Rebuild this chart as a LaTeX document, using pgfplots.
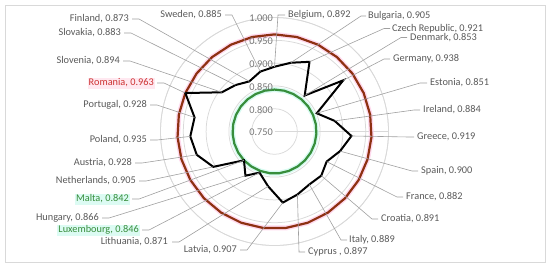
\documentclass[border=0pt]{standalone}
\usepackage{pgfplots}
\pgfplotsset{compat=1.18}
\usepackage{pgfplotstable}
\usepgfplotslibrary{polar}
\usepackage{fontspec}
\setmainfont{Carlito}

\definecolor{lbl}{RGB}{89,89,89}
\definecolor{tickc}{RGB}{118,118,118}
\definecolor{gridc}{RGB}{217,217,217}
\definecolor{lead}{RGB}{160,160,160}
\definecolor{redl}{RGB}{142,48,18}
\definecolor{greenl}{RGB}{56,142,60}
\definecolor{pinkg}{RGB}{255,205,232}
\definecolor{cyang}{RGB}{205,250,238}
\definecolor{redt}{RGB}{205,50,50}
\definecolor{pinkbg}{RGB}{255,232,240}

% country value max min  (clockwise from top; last row closes the ring)
\pgfplotstableread{
name v mx mn
Belgium 0.892 0.963 0.842
Bulgaria 0.905 0.963 0.842
CzechRepublic 0.921 0.963 0.842
Denmark 0.853 0.963 0.842
Germany 0.938 0.963 0.842
Estonia 0.851 0.963 0.842
Ireland 0.884 0.963 0.842
Greece 0.919 0.963 0.842
Spain 0.900 0.963 0.842
France 0.882 0.963 0.842
Croatia 0.891 0.963 0.842
Italy 0.889 0.963 0.842
Cyprus 0.897 0.963 0.842
Latvia 0.907 0.963 0.842
Lithuania 0.871 0.963 0.842
Luxembourg 0.846 0.963 0.842
Hungary 0.866 0.963 0.842
Malta 0.842 0.963 0.842
Netherlands 0.905 0.963 0.842
Austria 0.928 0.963 0.842
Poland 0.935 0.963 0.842
Portugal 0.928 0.963 0.842
Romania 0.963 0.963 0.842
Slovenia 0.894 0.963 0.842
Slovakia 0.883 0.963 0.842
Finland 0.873 0.963 0.842
Sweden 0.885 0.963 0.842
Belgium 0.892 0.963 0.842
}\data

\begin{document}
\begin{tikzpicture}[x=1bp,y=-1bp,
  lab/.style={text=lbl, inner sep=0pt, text height=7bp, text depth=2bp, font=\fontsize{10.3bp}{12bp}\selectfont},
  ld/.style={draw=lead, line width=0.6bp}]
\path[use as bounding box] (0,0) rectangle (550,267);
\draw[gridc, line width=0.75bp] (5,5) rectangle (545,262);
\begin{polaraxis}[
  at={(274.5bp,-131.5bp)}, anchor=center,
  width=228bp, height=228bp, scale only axis,
  ymin=0, ymax=0.25,
  xtick=\empty,
  ytick={0.05,0.1,0.15,0.2,0.25},
  yticklabels={},
  ymajorgrids, xmajorgrids=false,
  major grid style={draw=gridc, line width=0.75bp},
  axis line style={draw=gridc, line width=0.75bp},
  major tick length=0pt,
  clip=false,
]
\addplot[pinkg, line width=5bp, opacity=0.75] table[x expr={90-\coordindex*360/27}, y expr={\thisrow{mx}-0.75}] {\data};
\addplot[cyang, line width=5bp, opacity=0.8] table[x expr={90-\coordindex*360/27}, y expr={\thisrow{mn}-0.75}] {\data};
\addplot[redl, line width=2.2bp] table[x expr={90-\coordindex*360/27}, y expr={\thisrow{mx}-0.75}] {\data};
\addplot[greenl, line width=2.2bp] table[x expr={90-\coordindex*360/27}, y expr={\thisrow{mn}-0.75}] {\data};
\addplot[black, line width=2bp] table[x expr={90-\coordindex*360/27}, y expr={\thisrow{v}-0.75}] {\data};

\foreach \r/\t in {0/0.750,0.05/0.800,0.1/0.850,0.15/0.900,0.2/0.950,0.25/1.000}{
  \edef\temp{\noexpand\node[anchor=east, text=tickc, inner sep=0pt, xshift=-1.5bp, yshift=-1bp, font=\noexpand\fontsize{10.3bp}{12bp}\noexpand\selectfont] at (axis cs:90,\r) {\t};}
  \temp
}

\coordinate (c0) at (axis cs:90,0.142);
\coordinate (c1) at (axis cs:76.667,0.155);
\coordinate (c2) at (axis cs:63.333,0.171);
\coordinate (c3) at (axis cs:50,0.103);
\coordinate (c4) at (axis cs:36.667,0.188);
\coordinate (c5) at (axis cs:23.333,0.101);
\coordinate (c6) at (axis cs:10,0.134);
\coordinate (c7) at (axis cs:-3.333,0.169);
\coordinate (c8) at (axis cs:-16.667,0.150);
\coordinate (c9) at (axis cs:-30,0.132);
\coordinate (c10) at (axis cs:-43.333,0.141);
\coordinate (c11) at (axis cs:-56.667,0.139);
\coordinate (c12) at (axis cs:-70,0.147);
\coordinate (c13) at (axis cs:-83.333,0.157);
\coordinate (c14) at (axis cs:-96.667,0.121);
\coordinate (c15) at (axis cs:-110,0.096);
\coordinate (c16) at (axis cs:-123.333,0.116);
\coordinate (c17) at (axis cs:-136.667,0.092);
\coordinate (c18) at (axis cs:-150,0.155);
\coordinate (c19) at (axis cs:-163.333,0.178);
\coordinate (c20) at (axis cs:-176.667,0.185);
\coordinate (c21) at (axis cs:-190,0.178);
\coordinate (c22) at (axis cs:-203.333,0.213);
\coordinate (c23) at (axis cs:-216.667,0.144);
\coordinate (c24) at (axis cs:-230,0.133);
\coordinate (c25) at (axis cs:-243.333,0.123);
\coordinate (c26) at (axis cs:-256.667,0.135);
\end{polaraxis}

% right side labels (anchor west)
\draw[ld] (c0) -- (278,15) -- (285,15);
\node[lab, anchor=west] at (288,15) {Belgium, 0.892};
\draw[ld] (c1) -- (361,16) -- (366,16);
\node[lab, anchor=west] at (368,16) {Bulgaria, 0.905};
\draw[ld] (c2) -- (384,28.5) -- (390,28.5);
\node[lab, anchor=west] at (392,28.5) {Czech Republic, 0.921};
\draw[ld] (c3) -- (401,37.5) -- (407,37.5);
\node[lab, anchor=west] at (410,37.5) {Denmark, 0.853};
\draw[ld] (c4) -- (384,59) -- (390,59);
\node[lab, anchor=west] at (393,59) {Germany, 0.938};
\draw[ld] (c5) -- (420,83) -- (427,83);
\node[lab, anchor=west] at (430,83) {Estonia, 0.851};
\draw[ld] (c6) -- (414,110) -- (420,110);
\node[lab, anchor=west] at (423,110) {Ireland, 0.884};
\draw[ld] (c7) -- (409,137) -- (414,137);
\node[lab, anchor=west] at (417,137) {Greece, 0.919};
\draw[ld] (c8) -- (412,171) -- (418,171);
\node[lab, anchor=west] at (421,171) {Spain, 0.900};
\draw[ld] (c9) -- (397,197) -- (403,197);
\node[lab, anchor=west] at (406,197) {France, 0.882};
\draw[ld] (c10) -- (372,219) -- (378,219);
\node[lab, anchor=west] at (381,219) {Croatia, 0.891};
\draw[ld] (c11) -- (341,240) -- (347,240);
\node[lab, anchor=west] at (349,240) {Italy, 0.889};
\draw[ld] (c12) -- (299,252) -- (305,252);
\node[lab, anchor=west] at (308,252) {Cyprus , 0.897};

% left side labels (anchor east)
\draw[ld] (c13) -- (247,250) -- (240,250);
\node[lab, anchor=east] at (237,250) {Latvia, 0.907};
\draw[ld] (c14) -- (179,242) -- (172,242);
\node[lab, anchor=east] at (168,242) {Lithuania, 0.871};
\draw[ld] (c15) -- (149,230) -- (142,230);
\node[lab, anchor=east, fill=cyang!70, text=greenl, inner sep=1pt] at (140,230) {Luxembourg, 0.846};
\draw[ld] (c16) -- (109,218) -- (102,218);
\node[lab, anchor=east] at (99,218) {Hungary, 0.866};
\draw[ld] (c17) -- (139,199) -- (132,199);
\node[lab, anchor=east, fill=cyang!70, text=greenl, inner sep=1pt] at (130,199) {Malta, 0.842};
\draw[ld] (c18) -- (146,181) -- (139,181);
\node[lab, anchor=east] at (136,181) {Netherlands, 0.905};
\draw[ld] (c19) -- (142,163) -- (135,163);
\node[lab, anchor=east] at (132,163) {Austria, 0.928};
\draw[ld] (c20) -- (157,140) -- (150,140);
\node[lab, anchor=east] at (147,140) {Poland, 0.935};
\draw[ld] (c21) -- (157,105) -- (150,105);
\node[lab, anchor=east] at (147,105) {Portugal, 0.928};
\draw[ld] (c22) -- (164,83) -- (157,83);
\node[lab, anchor=east, fill=pinkbg, text=redt, inner sep=1pt] at (155,83) {Romania, 0.963};
\draw[ld] (c23) -- (130,61) -- (123,61);
\node[lab, anchor=east] at (120,61) {Slovenia, 0.894};
\draw[ld] (c24) -- (131,33) -- (124,33);
\node[lab, anchor=east] at (121,33) {Slovakia, 0.883};
\draw[ld] (c25) -- (139,19) -- (132,19);
\node[lab, anchor=east] at (129,19) {Finland, 0.873};
\draw[ld] (c26) -- (232,15) -- (225,15);
\node[lab, anchor=east] at (222,15) {Sweden, 0.885};
\end{tikzpicture}
\end{document}
